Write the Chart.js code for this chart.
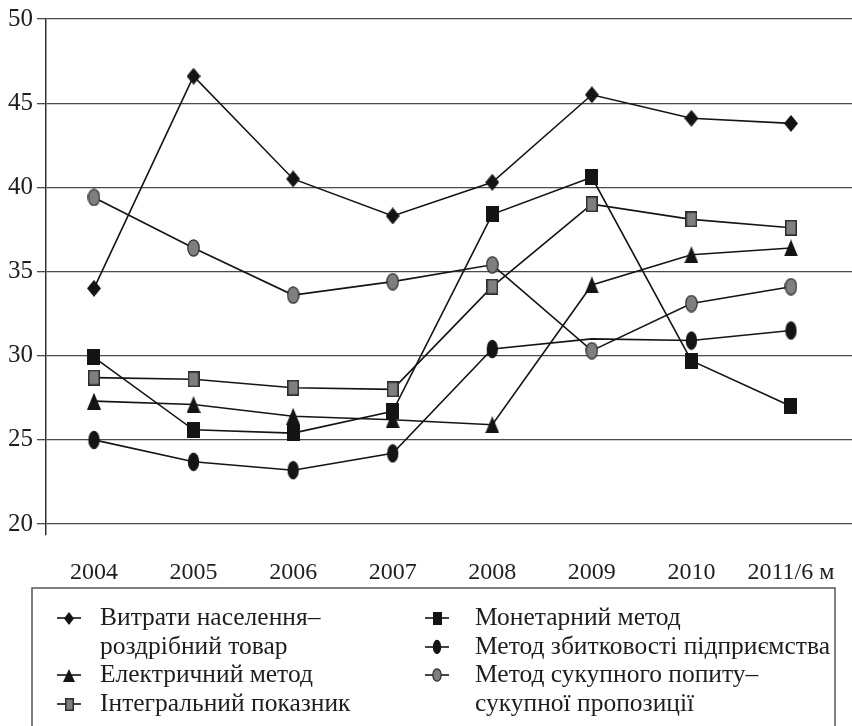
<!DOCTYPE html>
<html>
<head>
<meta charset="utf-8">
<style>
  html, body { margin: 0; padding: 0; background: #fff; }
  #wrap { width: 852px; height: 726px; position: relative; }
</style>
<script src="https://cdn.jsdelivr.net/npm/chart.js@4/dist/chart.umd.min.js"></script>
</head>
<body>
<div id="wrap"><canvas id="chart" width="852" height="726"></canvas></div>
<script>
// Years on the horizontal axis
const categories = ['2004', '2005', '2006', '2007', '2008', '2009', '2010', '2011/6 м'];
// Value-axis ticks
const yTicks = [20, 25, 30, 35, 40, 45, 50];

// Series values, %
const vytratyNaselennia = [34.0, 46.6, 40.5, 38.3, 40.3, 45.5, 44.1, 43.8];
const elektrychnyiMetod = [27.3, 27.1, 26.4, 26.2, 25.9, 34.2, 36.0, 36.4];
const intehralnyiPokaznyk = [28.7, 28.6, 28.1, 28.0, 34.1, 39.0, 38.1, 37.6];
const monetarnyiMetod = [29.9, 25.6, 25.4, 26.7, 38.4, 40.6, 29.7, 27.0];
const metodZbytkovosti = [25.0, 23.7, 23.2, 24.2, 30.4, 31.0, 30.9, 31.5];
const metodSukupnohoPopytu = [39.4, 36.4, 33.6, 34.4, 35.4, 30.3, 33.1, 34.1];

// Series names, split into legend lines
const labelVytraty = ['Витрати населення–', 'роздрібний товар'];
const labelElektrychnyi = ['Електричний метод'];
const labelIntehralnyi = ['Інтегральний показник'];
const labelMonetarnyi = ['Монетарний метод'];
const labelZbytkovosti = ['Метод збитковості підприємства'];
const labelSukupnyi = ['Метод сукупного попиту–', 'сукупної пропозиції'];

const INK = '#141414';
const GREY = '#7f7f7f';
const EDGE = '#2b2b2b';
const FONT = '"Liberation Serif", "DejaVu Serif", serif';

// ---- marker sprites ----
function sprite(w, h, paint) {
  const c = document.createElement('canvas');
  c.width = w; c.height = h;
  paint(c.getContext('2d'), w, h);
  return c;
}
function diamond(w, h) {
  return sprite(w, h, (g) => {
    g.fillStyle = INK;
    g.beginPath();
    g.moveTo(w / 2, 0); g.lineTo(w, h / 2); g.lineTo(w / 2, h); g.lineTo(0, h / 2);
    g.closePath(); g.fill();
  });
}
function triangle(w, h) {
  return sprite(w, h, (g) => {
    g.fillStyle = INK;
    g.beginPath();
    g.moveTo(w / 2, 0); g.lineTo(w, h); g.lineTo(0, h);
    g.closePath(); g.fill();
  });
}
function box(w, h, fill, stroke) {
  return sprite(w, h, (g) => {
    g.fillStyle = fill;
    g.fillRect(0, 0, w, h);
    if (stroke) {
      g.strokeStyle = stroke; g.lineWidth = 1.5;
      g.strokeRect(0.75, 0.75, w - 1.5, h - 1.5);
    }
  });
}
function oval(w, h, fill, stroke) {
  return sprite(w, h, (g) => {
    g.fillStyle = fill;
    g.beginPath();
    g.ellipse(w / 2, h / 2, w / 2 - 0.8, h / 2 - 0.8, 0, 0, Math.PI * 2);
    g.fill();
    if (stroke) { g.strokeStyle = stroke; g.lineWidth = 1.2; g.stroke(); }
  });
}

const series = [
  { lines: labelVytraty, data: vytratyNaselennia,
    mark: diamond(14, 17), legendMark: diamond(10, 13), col: 0, row: 0 },
  { lines: labelElektrychnyi, data: elektrychnyiMetod,
    mark: triangle(14, 17), legendMark: triangle(12, 13), col: 0, row: 2 },
  { lines: labelIntehralnyi, data: intehralnyiPokaznyk,
    mark: box(12, 16, GREY, EDGE), legendMark: box(9, 13, GREY, EDGE), col: 0, row: 3 },
  { lines: labelMonetarnyi, data: monetarnyiMetod,
    mark: box(13, 16, INK), legendMark: box(9, 13, INK), col: 1, row: 0 },
  { lines: labelZbytkovosti, data: metodZbytkovosti,
    mark: oval(13, 20, INK), legendMark: oval(10, 16, INK), col: 1, row: 1,
    hidden: [5] },
  { lines: labelSukupnyi, data: metodSukupnohoPopytu,
    mark: oval(13, 18, GREY, EDGE), legendMark: oval(10, 14, GREY, EDGE), col: 1, row: 2 }
];

const datasets = series.map((s) => ({
  label: s.lines.join(''),
  data: s.data.map((v, i) => ({ x: i, y: v })),
  borderColor: INK,
  borderWidth: 1.6,
  tension: 0,
  pointStyle: s.mark,
  pointRadius: s.data.map((_, i) => (s.hidden && s.hidden.includes(i)) ? 0 : 7),
  pointHoverRadius: 7,
  fill: false
}));

// ---- boxed legend drawn beneath the plot ----
const boxedLegend = {
  id: 'boxedLegend',
  afterDraw(chart) {
    const ctx = chart.ctx;
    const left = 32, right = 835, top = 588, bottom = 730;
    const rowY = [618, 647, 675, 704];
    const markX = [69, 437];
    const textX = [100, 475];
    ctx.save();
    ctx.strokeStyle = '#555';
    ctx.lineWidth = 1.5;
    ctx.beginPath();
    ctx.moveTo(left, bottom); ctx.lineTo(left, top); ctx.lineTo(right, top); ctx.lineTo(right, bottom);
    ctx.stroke();

    ctx.font = '25.5px ' + FONT;
    ctx.fillStyle = '#1e1e1e';
    ctx.textBaseline = 'middle';
    ctx.textAlign = 'left';
    series.forEach((s) => {
      const mx = markX[s.col];
      const my = rowY[s.row];
      ctx.strokeStyle = INK;
      ctx.lineWidth = 1.6;
      ctx.beginPath();
      ctx.moveTo(mx - 12, my); ctx.lineTo(mx + 12, my);
      ctx.stroke();
      const m = s.legendMark;
      ctx.drawImage(m, Math.round(mx - m.width / 2), Math.round(my - m.height / 2));
      s.lines.forEach((t, k) => {
        ctx.fillText(t, textX[s.col], rowY[s.row + k]);
      });
    });
    ctx.restore();
  }
};

new Chart(document.getElementById('chart'), {
  type: 'line',
  data: { datasets },
  options: {
    responsive: false,
    animation: false,
    events: [],
    layout: { autoPadding: false, padding: { top: 19, left: 0, right: 0, bottom: 0 } },
    plugins: { legend: { display: false }, tooltip: { enabled: false } },
    scales: {
      x: {
        type: 'linear',
        min: -0.482,
        max: 7.613,
        afterBuildTicks: (s) => { s.ticks = categories.map((_, i) => ({ value: i })); },
        afterFit: (s) => { s.height = 191; s.paddingLeft = 0; s.paddingRight = 0; },
        grid: { display: false, drawTicks: false },
        border: { display: false },
        ticks: {
          autoSkip: false,
          maxRotation: 0,
          padding: 23,
          color: '#1e1e1e',
          font: { family: FONT, size: 24 },
          callback: (v) => categories[v]
        }
      },
      y: {
        type: 'linear',
        min: 19.35,
        max: 50,
        afterBuildTicks: (s) => { s.ticks = yTicks.map((v) => ({ value: v })); },
        afterFit: (s) => { s.width = 46; s.paddingTop = 0; s.paddingBottom = 0; },
        grid: { color: '#4a4a4a', lineWidth: 1.3, tickLength: 9, tickColor: '#4a4a4a' },
        border: { display: true, color: '#333', width: 1.5 },
        ticks: {
          padding: 4,
          color: '#1e1e1e',
          font: { family: FONT, size: 25 },
          callback: (v) => String(v)
        }
      }
    }
  },
  plugins: [boxedLegend]
});
</script>
</body>
</html>
